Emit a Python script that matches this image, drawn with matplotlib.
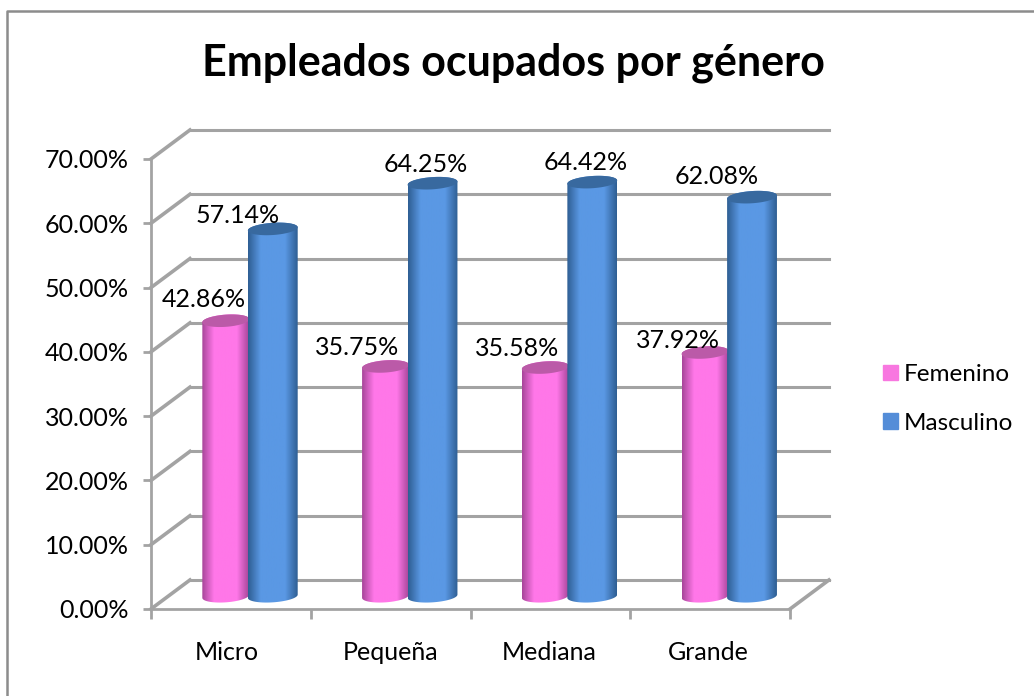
"""Empleados ocupados por genero, 3D-look cylinder chart."""

import numpy as np
import matplotlib
matplotlib.use("Agg")
import matplotlib.pyplot as plt
from matplotlib.colors import LinearSegmentedColormap
from matplotlib.lines import Line2D
from matplotlib.patches import PathPatch, Rectangle
from matplotlib.path import Path

categories = ["Micro", "Pequeña", "Mediana", "Grande"]
femenino = [42.86, 35.75, 35.58, 37.92]
masculino = [57.14, 64.25, 64.42, 62.08]
y_ticks = [0, 10, 20, 30, 40, 50, 60, 70]

W, H = 1034, 696
# depth of the fake 3D box, in data units
DX = 39 / 160
DY = 29 / (450 / 70)
GRID = "#a3a3a3"
BAR_DEPTH = 0.44

plt.rcParams["font.family"] = ["Lato", "DejaVu Sans"]
fig = plt.figure(figsize=(W / 100, H / 100), dpi=100)
# only the top and left edges of the chart frame are in the picture
fig.add_artist(Line2D([7 / W, 7 / W, 1], [0, 1 - 11 / H, 1 - 11 / H], transform=fig.transFigure,
                      color="#8c8c8c", linewidth=1.8))

ax = fig.add_axes([151 / W, 1 - 609 / H, 639 / W, 450 / H])
ax.set_xlim(0, len(categories))
ax.set_ylim(0, 70)
ax.patch.set_visible(False)
for s in ["top", "right"]:
    ax.spines[s].set_visible(False)
for s in ["left", "bottom"]:
    ax.spines[s].set_color(GRID)
    ax.spines[s].set_linewidth(2)
ax.set_xticks(range(len(categories) + 1), [""] * (len(categories) + 1))
ax.set_yticks(y_ticks, [f"{v:.2f}%" for v in y_ticks], fontsize=18, color="black")
ax.tick_params(axis="y", length=6, width=2, color=GRID, pad=10)
ax.tick_params(axis="x", length=7, width=2, color=GRID)
cat_shift = [-4, 0, -1, -2]
for i, c in enumerate(categories):
    ax.annotate(c, (i + 0.5, 0), xytext=(cat_shift[i], -44), textcoords="offset pixels",
                ha="center", va="center", fontsize=18)

# back wall and side wall
n = len(categories)
for v in y_ticks:
    ax.plot([DX, n + DX], [v + DY, v + DY], color=GRID, lw=2.2, clip_on=False, zorder=1)
    ax.plot([0, DX], [v, v + DY], color=GRID, lw=2.6, clip_on=False, zorder=1)
ax.plot([n, n + DX], [0, DY], color=GRID, lw=2.6, clip_on=False, zorder=1)


def cylinder(ax, x, val, half, base_col, edge_col, top_col, z):
    # bar centre sits at mid depth of the box
    y0 = BAR_DEPTH * DY
    ry = 0.95
    tilt = 0.25
    t = np.linspace(np.pi, 2 * np.pi, 40)
    bx = x + half * np.cos(t)
    by = y0 + ry * np.sin(t) + tilt * np.cos(t)
    top = y0 + val
    t2 = np.linspace(0, 2 * np.pi, 80)
    tx = x + half * np.cos(t2)
    ty = top + ry * np.sin(t2) + tilt * np.cos(t2)
    verts = list(zip(bx, by)) + list(zip(tx[:41], ty[:41]))
    body = PathPatch(Path(verts + [verts[0]], closed=True), transform=ax.transData,
                     fc="none", ec="none")
    ax.add_patch(body)
    cmap = LinearSegmentedColormap.from_list(
        "c", [(0, edge_col), (0.25, base_col), (0.75, base_col), (1, edge_col)])
    im = ax.imshow(np.linspace(0, 1, 64)[None, :], extent=[x - half, x + half, y0 - 2, top + 2],
                   cmap=cmap, aspect="auto", zorder=z, clip_on=True)
    im.set_clip_path(body)
    ax.fill(tx, ty, color=top_col, zorder=z + 0.1, clip_on=False, lw=0)


half = 24 / 160
for i in range(n):
    cx = i + 0.5 + BAR_DEPTH * DX + 0.008
    cylinder(ax, cx - 0.147, femenino[i], half * 0.98, "#ff77e8", "#a8479a", "#bb5aa8", 3)
    cylinder(ax, cx + 0.147, masculino[i], half * 1.04, "#5a98e4", "#2f5f94", "#38699f", 4)

ax.set_xlim(0, n)
ax.set_ylim(0, 70)

# data labels, nudged by hand like in the source chart (pixels from bar top)
fem_shift = [(-22, 21), (-28, 19), (-28, 19), (-27, 12)]
mas_shift = [(-35, 13), (-7, 19), (-7, 20), (-35, 21)]
for i in range(n):
    cx = i + 0.5 + BAR_DEPTH * DX + 0.008
    for sign, vals, shifts in [(-1, femenino, fem_shift), (1, masculino, mas_shift)]:
        ax.annotate(f"{vals[i]:.2f}%", (cx + sign * 0.147, vals[i] + BAR_DEPTH * DY),
                    xytext=shifts[i], textcoords="offset pixels", ha="center", va="center",
                    fontsize=18, zorder=10, annotation_clip=False)

fig.text(513 / W, 1 - 63 / H, "Empleados ocupados por género", ha="center", va="center",
         fontsize=31, fontweight="bold")

# legend
ax.legend(handles=[Rectangle((0, 0), 1, 1, color="#f877e0"), Rectangle((0, 0), 1, 1, color="#548dd8")],
          labels=["Femenino", "Masculino"], loc="center left",
          bbox_to_anchor=(883 / W, 1 - 399 / H), bbox_transform=fig.transFigure,
          frameon=False, fontsize=17.5, handlelength=0.62, handleheight=0.62,
          handletextpad=0.22, labelspacing=1.14, borderpad=0, borderaxespad=0)

fig.savefig("out.png", dpi=100)
plt.close(fig)
